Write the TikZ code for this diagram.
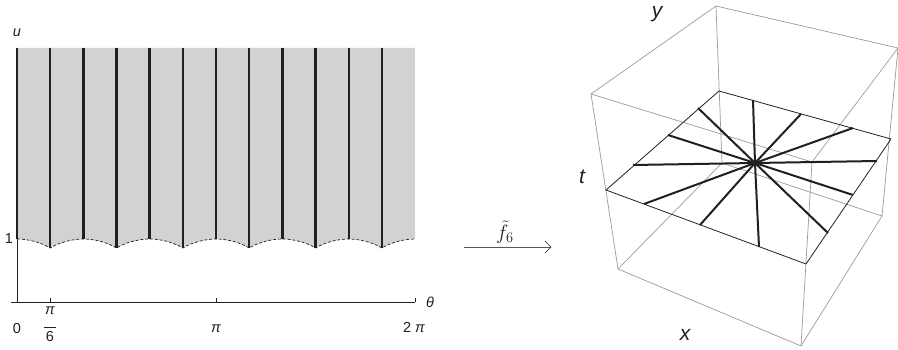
\documentclass[tikz,border=0pt]{standalone}
\usepackage{fontspec}
\setmainfont{Liberation Sans}
\definecolor{stripgray}{HTML}{D0D2D4}
\definecolor{ink}{HTML}{231F20}
\definecolor{boxgray}{HTML}{9A9A9A}
\begin{document}
\begin{tikzpicture}[x=1pt,y=-1pt,
  lab/.style={inner sep=0pt,font=\fontsize{14.5}{16}\selectfont,text=ink},
  cubelab/.style={inner sep=0pt,font=\fontsize{21}{23}\selectfont\itshape,text=ink},
  axisline/.style={draw=ink,line width=0.8pt},
  rule/.style={draw=ink,line width=2.4pt},
  edge/.style={draw=boxgray,line width=0.7pt},
  rim/.style={draw=ink,line width=0.8pt},
  spoke/.style={draw=ink,line width=2pt}]
\useasboundingbox (0,0) rectangle (898,350);
% shaded strip
\fill[stripgray] (17,48) -- (415,48) -- (415,239)
  \foreach \k in {11,9,...,1}{
    .. controls ({17+33.17*(\k+1)-12},239) and ({17+33.17*\k+8},243) .. ({17+33.17*\k},248)
    .. controls ({17+33.17*\k-8},243) and ({17+33.17*(\k-1)+12},239) .. ({17+33.17*(\k-1)},239)
  } -- cycle;
\draw[draw=ink,line width=0.7pt,dash pattern=on 3pt off 1.8pt] (17,239)
  \foreach \k in {1,3,...,11}{
    .. controls ({17+33.17*(\k-1)+12},239) and ({17+33.17*\k-8},243) .. ({17+33.17*\k},248)
    .. controls ({17+33.17*\k+8},243) and ({17+33.17*(\k+1)-12},239) .. ({17+33.17*(\k+1)},239)
  };
% vertical rules
\foreach \k in {0,2,...,10}{
  \draw[rule] ({17+33.17*\k},48) -- ({17+33.17*\k},239);
  \draw[rule] ({17+33.17*(\k+1)},48) -- ({17+33.17*(\k+1)},248);
}
% axes
\coordinate (o) at (17,302);
\coordinate (xl) at (11,302);
\coordinate (xr) at (415,302);
\coordinate (yt) at (17,239);
\draw[axisline] (xl) -- (xr);
\draw[axisline] (o) -- (yt);
\draw[axisline] (50,302) -- (50,298);
\draw[axisline] (216,302) -- (216,298);
\draw[axisline] (xr) -- (415,298);
% axis labels
\node[lab] (ulab) at (17,33) {\itshape u};
\node[lab] (one) at (9,239) {1};
\node[lab] (zero) at (17,329) {0};
\node[lab,anchor=center] (pisix) at (50,325) {\begin{tabular}{@{}c@{}}\itshape π\\[-3.5pt]\rule{13pt}{0.7pt}\\[-1.5pt]6\end{tabular}};
\node[lab] (pi) at (216,329) {\itshape π};
\node[lab] (twopi) at (414,328) {2 \itshape π};
\node[lab] (theta) at (430,302) {\itshape θ};
% map arrow
\coordinate (a1) at (464,247);
\coordinate (a2) at (551,247);
\draw[draw=ink!75,line width=0.8pt] (a1) -- (a2);
\draw[draw=ink,line width=0.7pt] (545,241) -- (a2) -- (545,253);
\node[lab,font=\fontsize{20}{22}\selectfont] (map) at (505,232) {$\tilde f_6$};
% cube
\coordinate (tb) at (716,6);
\coordinate (tr) at (898,48);
\coordinate (tl) at (591,94);
\coordinate (tf) at (812,162);
\coordinate (bb) at (722,163);
\coordinate (br) at (882,216);
\coordinate (bl) at (618,269);
\coordinate (bf) at (801,346);
\draw[edge] (tl) -- (tb) -- (tr) -- (tf) -- cycle;
\draw[edge] (bl) -- (bb) -- (br) -- (bf) -- cycle;
\draw[edge] (tl) -- (bl);
\draw[edge] (tb) -- (bb);
\draw[edge] (tr) -- (br);
\draw[edge] (tf) -- (bf);
% plane
\coordinate (pb) at (719,91);
\coordinate (pr) at (891,139);
\coordinate (pl) at (606,190);
\coordinate (pf) at (806,264);
\coordinate (c) at (755,163);
\draw[rim] (pb) -- (pr) -- (pf) -- (pl) -- cycle;
\foreach \x/\y in {698/108,668/135,633/165,753/100,801/114,853/128,877/161,853/195,828/233,759/247,700/225,644/204}{
  \draw[spoke] (c) -- (\x,\y);
}
\node[cubelab] (ylab) at (657,14) {y};
\node[cubelab] (tlab) at (582,177) {t};
\node[cubelab] (xlab) at (685,335) {x};
\end{tikzpicture}
\end{document}
